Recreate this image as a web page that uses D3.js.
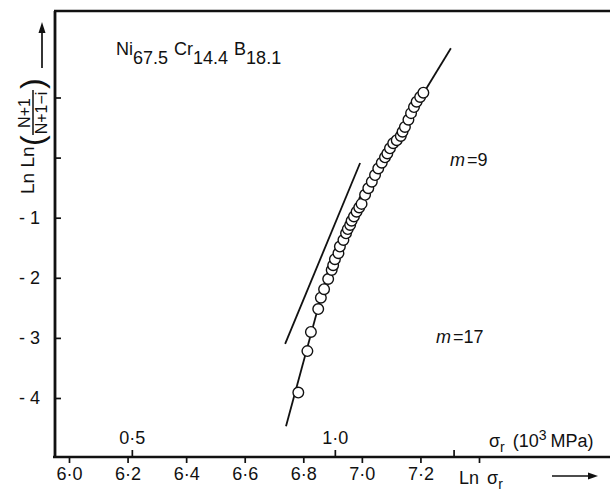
<!DOCTYPE html>
<html>
<head>
<meta charset="utf-8">
<script src="https://cdn.jsdelivr.net/npm/d3@7"></script>
<style>
body { margin: 0; background: #fff; }
svg text { font-family: "Liberation Sans", Arial, sans-serif; fill: #111; }
</style>
</head>
<body>
<div id="chart"></div>
<script>
// Weibull plot points: Ln sigma_r  vs  Ln Ln((N+1)/(N+1-i))
const lnSigma = [6.783, 6.814, 6.826, 6.851, 6.860, 6.871, 6.885, 6.897, 6.902, 6.908,
                 6.920, 6.925, 6.937, 6.946, 6.952, 6.960, 6.965, 6.973, 6.982, 6.991,
                 6.999, 7.011, 7.022, 7.034, 7.045, 7.056, 7.068, 7.079, 7.087, 7.096,
                 7.107, 7.119, 7.133, 7.139, 7.147, 7.159, 7.168, 7.178, 7.187, 7.199, 7.210];
const lnLnP   = [-3.91, -3.22, -2.90, -2.52, -2.33, -2.19, -2.02, -1.87, -1.79, -1.69,
                 -1.59, -1.48, -1.37, -1.26, -1.19, -1.12, -1.05, -0.98, -0.90, -0.83,
                 -0.77, -0.62, -0.51, -0.40, -0.29, -0.18, -0.085, 0.005, 0.07, 0.155,
                 0.24, 0.29, 0.36, 0.43, 0.51, 0.63, 0.74, 0.84, 0.93, 1.01, 1.08];

// fitted straight lines (end points in data units)
const fitM17   = { x: [6.741, 6.895], y: [-4.47, -1.70] };
const fitShort = { x: [6.738, 6.994], y: [-3.10, -0.09] };
const fitM9    = { x: [6.990, 7.304], y: [-0.69, 1.82] };

// ticks
const xTicks = [6.0, 6.2, 6.4, 6.6, 6.8, 7.0, 7.2, 7.4];
const xTickLabels = ['6·0', '6·2', '6·4', '6·6', '6·8', '7·0', '7·2', ''];
const sigmaTicks = [0.5, 1.0, 1.5];          // 10^3 MPa
const sigmaLabels = ['0·5', '1·0', ''];
const yTicks = [1, 0, -1, -2, -3, -4];
const yTickLabels = ['', '', '- 1', '- 2', '- 3', '- 4'];

const W = 610, H = 494;
const frame = { left: 55, top: 11, bottom: 457, right: 610 };

const svg = d3.select('#chart').append('svg')
    .attr('width', W)
    .attr('height', H);

const x = d3.scaleLinear().domain([6.0, 7.4]).range([69, 479]);
const y = d3.scaleLinear().domain([-4, 1]).range([398, 97.5]);

// frame lines
svg.append('line')
    .attr('x1', frame.left).attr('y1', frame.top)
    .attr('x2', frame.left).attr('y2', frame.bottom)
    .attr('stroke', '#111').attr('stroke-width', 2.8);
svg.append('line')
    .attr('x1', frame.left - 2).attr('y1', frame.bottom)
    .attr('x2', frame.right).attr('y2', frame.bottom)
    .attr('stroke', '#111').attr('stroke-width', 2.6);
svg.append('line')
    .attr('x1', frame.left - 1).attr('y1', frame.top)
    .attr('x2', frame.right).attr('y2', frame.top)
    .attr('stroke', '#111').attr('stroke-width', 2.4);

// bottom axis: Ln sigma_r
const xAxis = svg.append('g')
    .attr('transform', 'translate(0,' + frame.bottom + ')')
    .call(d3.axisBottom(x).tickValues(xTicks).tickSize(6).tickPadding(4)
        .tickFormat((d, i) => xTickLabels[i]));

// upper ticks: sigma_r in 10^3 MPa (log positions)
const sAxis = svg.append('g')
    .attr('transform', 'translate(0,' + frame.bottom + ')')
    .call(d3.axisTop(x).tickValues(sigmaTicks.map(s => Math.log(s * 1000))).tickSize(7).tickPadding(6)
        .tickFormat((d, i) => sigmaLabels[i]));

// left axis
const yAxis = svg.append('g')
    .attr('transform', 'translate(' + frame.left + ',0)')
    .call(d3.axisLeft(y).tickValues(yTicks).tickSize(-6).tickPadding(15)
        .tickFormat((d, i) => yTickLabels[i]));

[xAxis, sAxis, yAxis].forEach(g => {
    g.select('.domain').remove();
    g.selectAll('.tick line').attr('stroke', '#111').attr('stroke-width', 1.7);
    g.selectAll('.tick text')
        .attr('fill', '#111')
        .style('font-size', '18px')
        .style('font-family', '"Liberation Sans", Arial, sans-serif');
});

// fit lines
[fitM17, fitShort, fitM9].forEach(f => {
    svg.append('line')
        .attr('x1', x(f.x[0])).attr('y1', y(f.y[0]))
        .attr('x2', x(f.x[1])).attr('y2', y(f.y[1]))
        .attr('stroke', '#111').attr('stroke-width', 1.8);
});

// data points
svg.append('g').selectAll('circle')
    .data(lnSigma.map((v, i) => ({ s: v, p: lnLnP[i] })))
    .enter().append('circle')
    .attr('cx', d => x(d.s))
    .attr('cy', d => y(d.p))
    .attr('r', 5.3)
    .attr('fill', '#fff')
    .attr('stroke', '#111')
    .attr('stroke-width', 1.4);

// composition label
const comp = svg.append('text').attr('x', 116).attr('y', 55).style('font-size', '18px');
comp.append('tspan').text('Ni');
comp.append('tspan').attr('dy', 9).text('67.5');
comp.append('tspan').attr('dy', -9).attr('dx', 6).text('Cr');
comp.append('tspan').attr('dy', 9).text('14.4');
comp.append('tspan').attr('dy', -9).attr('dx', 6).text('B');
comp.append('tspan').attr('dy', 9).text('18.1');

// slope labels
function slopeLabel(px, py, val) {
    const t = svg.append('text').attr('x', px).attr('y', py).style('font-size', '18px');
    t.append('tspan').style('font-style', 'italic').text('m');
    t.append('tspan').attr('dx', 2).text('=' + val);
}
slopeLabel(450, 166, '9');
slopeLabel(436, 343, '17');

// sigma_r (10^3 MPa) label
const sl = svg.append('text').attr('x', 489).attr('y', 447).style('font-size', '18px');
sl.append('tspan').text('σ');
sl.append('tspan').attr('dy', 5).style('font-size', '14px').text('r');
sl.append('tspan').attr('dy', -5).attr('dx', 8).text('(10');
sl.append('tspan').attr('dy', -7).style('font-size', '14px').text('3');
sl.append('tspan').attr('dy', 7).attr('dx', 4).text('MPa)');

// Ln sigma_r label
const ll = svg.append('text').attr('x', 459).attr('y', 484).style('font-size', '18px');
ll.append('tspan').text('Ln');
ll.append('tspan').attr('dx', 8).text('σ');
ll.append('tspan').attr('dy', 5).style('font-size', '14px').text('r');

// x arrow
svg.append('line').attr('x1', 552).attr('y1', 476).attr('x2', 590).attr('y2', 476)
    .attr('stroke', '#111').attr('stroke-width', 1.7);
svg.append('path').attr('d', 'M598,476 L588,472.5 L588,479.5 Z').attr('fill', '#111');

// y title: Ln Ln((N+1)/(N+1-i)) rotated
const yt = svg.append('g').attr('transform', 'translate(34,194) rotate(-90)');
yt.append('text').attr('x', 0).attr('y', 0).style('font-size', '19px').text('Ln Ln');
yt.append('text').attr('x', 48).attr('y', 9).style('font-size', '32px').text('(');
yt.append('text').attr('x', 81).attr('y', -4).attr('text-anchor', 'middle')
    .style('font-size', '16px').text('N+1');
yt.append('line').attr('x1', 59).attr('x2', 104).attr('y1', -1).attr('y2', -1)
    .attr('stroke', '#111').attr('stroke-width', 1.5);
yt.append('text').attr('x', 81).attr('y', 12.5).attr('text-anchor', 'middle')
    .style('font-size', '16px').text('N+1−i');
yt.append('text').attr('x', 105).attr('y', 9).style('font-size', '32px').text(')');

// y arrow
svg.append('line').attr('x1', 42).attr('y1', 68).attr('x2', 42).attr('y2', 32)
    .attr('stroke', '#111').attr('stroke-width', 1.7);
svg.append('path').attr('d', 'M42,22 L38.5,33 L45.5,33 Z').attr('fill', '#111');
</script>
</body>
</html>
